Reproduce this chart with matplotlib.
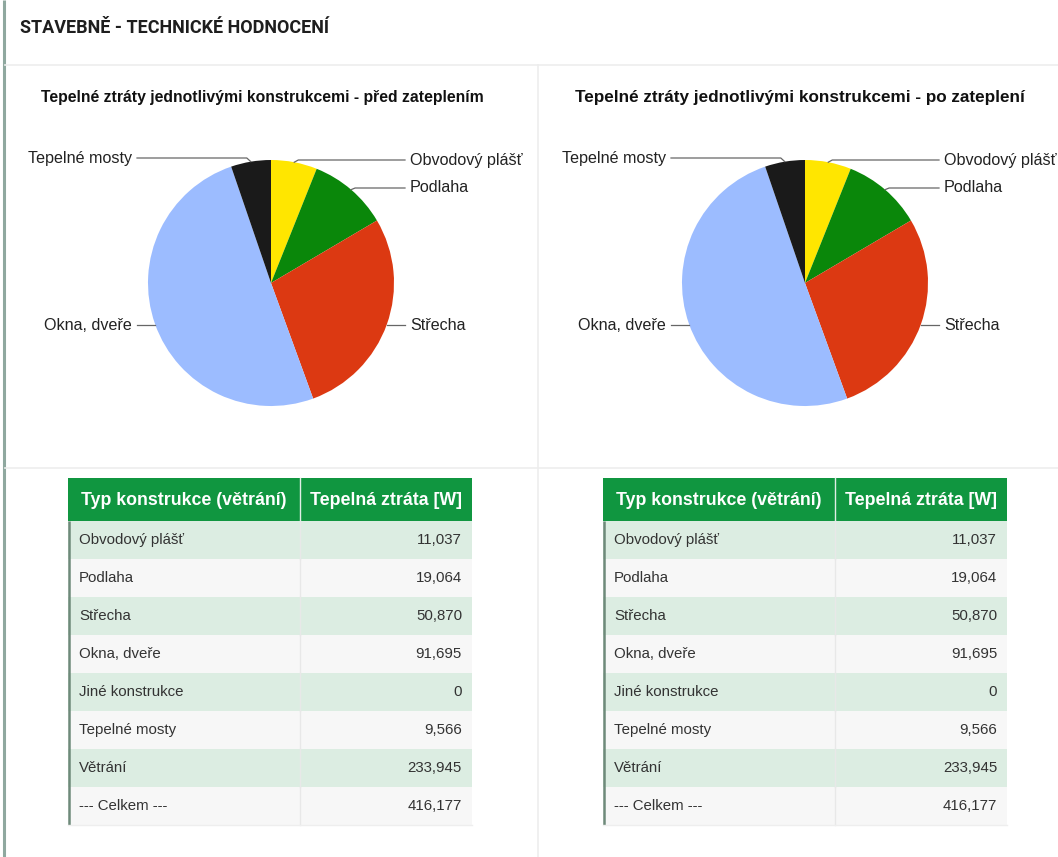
import matplotlib
matplotlib.use("Agg")
import numpy as np
import matplotlib.pyplot as plt
from matplotlib.patches import Rectangle

# ---- data -------------------------------------------------------------
pie_labels = ["Obvodový plášť", "Podlaha", "Střecha", "Okna, dveře",
              "Jiné konstrukce", "Tepelné mosty"]
before_values = [11037, 19064, 50870, 91695, 0, 9566]
after_values = [11037, 19064, 50870, 91695, 0, 9566]
slice_colors = ["#ffe600", "#0a870a", "#dc3912", "#9cbcff", "#999999", "#1a1a1a"]

table_header = ["Typ konstrukce (větrání)", "Tepelná ztráta [W]"]
row_labels = ["Obvodový plášť", "Podlaha", "Střecha", "Okna, dveře",
              "Jiné konstrukce", "Tepelné mosty", "Větrání", "--- Celkem ---"]
before_table = [11037, 19064, 50870, 91695, 0, 9566, 233945, 416177]
after_table = [11037, 19064, 50870, 91695, 0, 9566, 233945, 416177]

page_title = "STAVEBNĚ - TECHNICKÉ HODNOCENÍ"
chart_titles = ["Tepelné ztráty jednotlivými konstrukcemi - před zateplením",
                "Tepelné ztráty jednotlivými konstrukcemi - po zateplení"]

# ---- figure -----------------------------------------------------------
W, H = 1058, 857
fig = plt.figure(figsize=(W / 100, H / 100), dpi=100)
fig.patch.set_facecolor("white")
plt.rcParams["font.family"] = ["Liberation Sans", "DejaVu Sans"]

# page overlay in pixel coordinates (y downwards)
page = fig.add_axes([0, 0, 1, 1])
page.set_xlim(0, W)
page.set_ylim(H, 0)
page.axis("off")

# page frame lines
page.plot([4, 4], [0, H], color="#8fa89f", lw=2.2, solid_capstyle="butt")
page.plot([5, W], [65, 65], color="#ededed", lw=1.2)
page.plot([5, W], [468, 468], color="#ededed", lw=1.2)
page.plot([538, 538], [65, H], color="#ededed", lw=1.2)

page.text(20, 28, page_title, fontsize=13, fontweight="bold",
          family=["Roboto", "DejaVu Sans"], color="#1e1e1e",
          va="center", ha="left")


def draw_pie(cx, cy, values, title, title_x, title_size):
    R = 123
    half_w, half_h = 265, 140
    ax = fig.add_axes([(cx - half_w) / W, 1 - (cy + half_h) / H,
                       2 * half_w / W, 2 * half_h / H])
    ax.pie(values, colors=slice_colors, radius=R, startangle=90,
           counterclock=False, wedgeprops=dict(linewidth=0), frame=True)
    ax.set_xlim(-half_w, half_w)
    ax.set_ylim(-half_h, half_h)
    ax.set_aspect("auto")
    ax.axis("off")

    total = float(sum(values))
    start = 90.0
    label_offsets = {"Obvodový plášť": 123, "Podlaha": 95, "Střecha": -42,
                     "Okna, dveře": -42, "Tepelné mosty": 125}
    for name, v in zip(pie_labels, values):
        sweep = 360.0 * v / total
        mid = np.deg2rad(start - sweep / 2)
        start -= sweep
        if v == 0:
            continue
        px, py = R * np.cos(mid), R * np.sin(mid)
        ly = label_offsets[name]
        right = px > 0
        x_end = 134 if right else -134
        if abs(py - ly) > 1.5:
            knee = px + (4 if right else -4)
            xs, ys = [px, knee, x_end], [py, ly, ly]
        else:
            xs, ys = [px, x_end], [ly, ly]
        ax.plot(xs, ys, color="#666666", lw=0.9, clip_on=False)
        ax.text(139 if right else -139, ly, name, fontsize=11.6,
                ha="left" if right else "right", va="center",
                color="#222222", clip_on=False)

    page.text(title_x, 97, title, fontsize=title_size, fontweight="bold",
              ha="left", va="center", color="#111111")


draw_pie(271, 283, before_values, chart_titles[0], 41, 11.3)
draw_pie(805, 283, after_values, chart_titles[1], 575, 12.3)


def fmt(v):
    return f"{v:,}"


def draw_table(x0, values):
    x_div = x0 + 232
    x1 = x0 + 404
    top = 478
    head_h = 43
    row_h = 38
    green = "#109640"
    # header
    page.add_patch(Rectangle((x0, top), x1 - x0, head_h, facecolor=green,
                             edgecolor="none"))
    page.plot([x_div, x_div], [top, top + head_h], color="#e0eee5", lw=1)
    page.text((x0 + x_div) / 2, top + head_h / 2 + 1, table_header[0],
              color="white", fontsize=12.8, fontweight="bold",
              ha="center", va="center")
    page.text((x_div + x1) / 2, top + head_h / 2 + 1, table_header[1],
              color="white", fontsize=12.8, fontweight="bold",
              ha="center", va="center")
    # body rows
    for i, (lab, v) in enumerate(zip(row_labels, values)):
        y = top + head_h + i * row_h
        fc = "#dcede2" if i % 2 == 0 else "#f7f7f7"
        page.add_patch(Rectangle((x0, y), x1 - x0, row_h, facecolor=fc,
                                 edgecolor="none"))
        page.plot([x_div, x_div], [y, y + row_h], color="#e8e8e8", lw=1)
        page.text(x0 + 11, y + row_h / 2, lab, fontsize=10.8,
                  color="#333333", ha="left", va="center")
        page.text(x1 - 10, y + row_h / 2, fmt(v), fontsize=10.8,
                  color="#333333", ha="right", va="center")
    bottom = top + head_h + len(values) * row_h
    page.plot([x0 + 1, x0 + 1], [top + head_h, bottom], color="#6e8a7a",
              lw=1.8, solid_capstyle="butt")
    page.plot([x0, x1], [bottom, bottom], color="#eeeeee", lw=1)


draw_table(68, before_table)
draw_table(603, after_table)

fig.savefig("out.png", dpi=100, facecolor="white")
